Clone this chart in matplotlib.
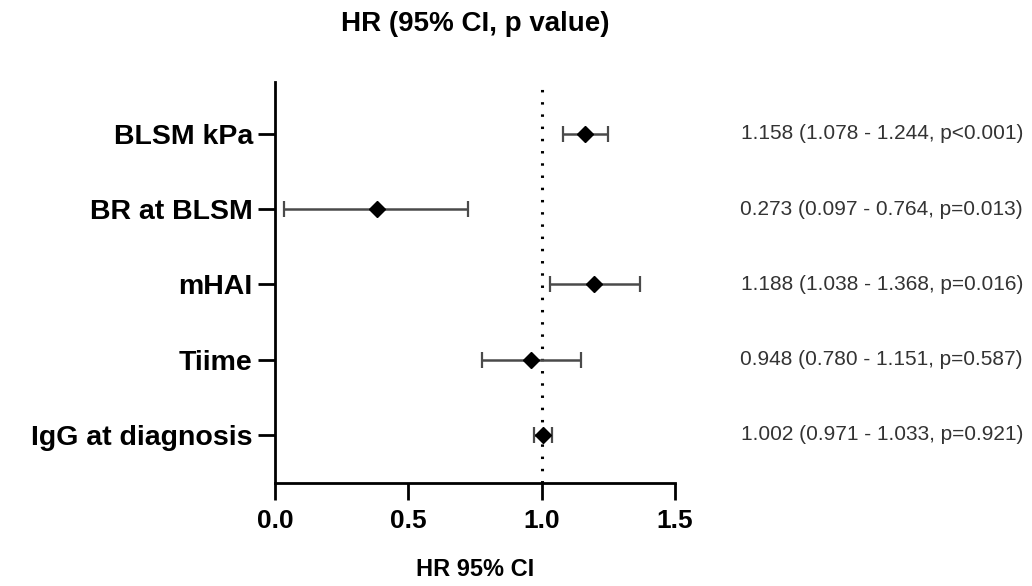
import matplotlib
matplotlib.use("Agg")
import matplotlib.pyplot as plt
import matplotlib.transforms as mtransforms

plt.rcParams['font.family'] = ['Liberation Sans', 'DejaVu Sans']

categories = ["BLSM kPa", "BR at BLSM", "mHAI", "Tiime", "IgG at diagnosis"]
hr = [1.161, 0.381, 1.196, 0.961, 1.005]
ci_low = [1.079, 0.034, 1.031, 0.776, 0.973]
ci_high = [1.247, 0.725, 1.367, 1.149, 1.039]
annotations = [
    "1.158 (1.078 - 1.244, p<0.001)",
    "0.273 (0.097 - 0.764, p=0.013)",
    "1.188 (1.038 - 1.368, p=0.016)",
    "0.948 (0.780 - 1.151, p=0.587)",
    "1.002 (0.971 - 1.033, p=0.921)",
]
xticks = [0.0, 0.5, 1.0, 1.5]
xtick_labels = ["0.0", "0.5", "1.0", "1.5"]

W, H = 1032, 586
fig = plt.figure(figsize=(W / 100, H / 100), dpi=100)
ax = fig.add_axes([275 / W, 1 - 483 / H, 400 / W, (483 - 82) / H])

ypos = list(range(len(categories)))
xerr = [[h - l for h, l in zip(hr, ci_low)], [u - h for h, u in zip(hr, ci_high)]]

ax.axvline(1.0, color='black', linewidth=2.2, linestyle=(0, (0.8, 3.2)), zorder=1)
ax.errorbar(hr, ypos, xerr=xerr, fmt='none', ecolor='#4a4a4a', elinewidth=1.8,
            capsize=6, capthick=1.6, zorder=2)
ax.plot(hr, ypos, linestyle='none', marker='D', markersize=8, color='black',
        markeredgewidth=1, zorder=3)

ax.set_xlim(0, 1.5)
ax.set_ylim(4.64, -0.69)
ax.set_yticks(ypos)
ax.set_yticklabels(categories, fontsize=20.5, fontweight='bold')
ax.set_xticks(xticks)
ax.set_xticklabels(xtick_labels, fontsize=19, fontweight='bold')

for s in ['top', 'right']:
    ax.spines[s].set_visible(False)
for s in ['left', 'bottom']:
    ax.spines[s].set_linewidth(2.0)
    ax.spines[s].set_color('black')
ax.tick_params(axis='both', width=2.0, length=12, color='black')
ax.tick_params(axis='y', pad=4)
ax.tick_params(axis='x', pad=7)

trans = mtransforms.blended_transform_factory(fig.transFigure, ax.transData)
for y, txt in zip(ypos, annotations):
    ax.text(1023 / W, y, txt, transform=trans, ha='right', va='center',
            fontsize=15, color='#333333', clip_on=False)

fig.text(475 / W, 1 - 24 / H, "HR (95% CI, p value)", ha='center', va='center',
         fontsize=20, fontweight='bold')
fig.text(475 / W, 1 - 570 / H, "HR 95% CI", ha='center', va='center',
         fontsize=17, fontweight='bold')

fig.savefig("out.png", dpi=100)
